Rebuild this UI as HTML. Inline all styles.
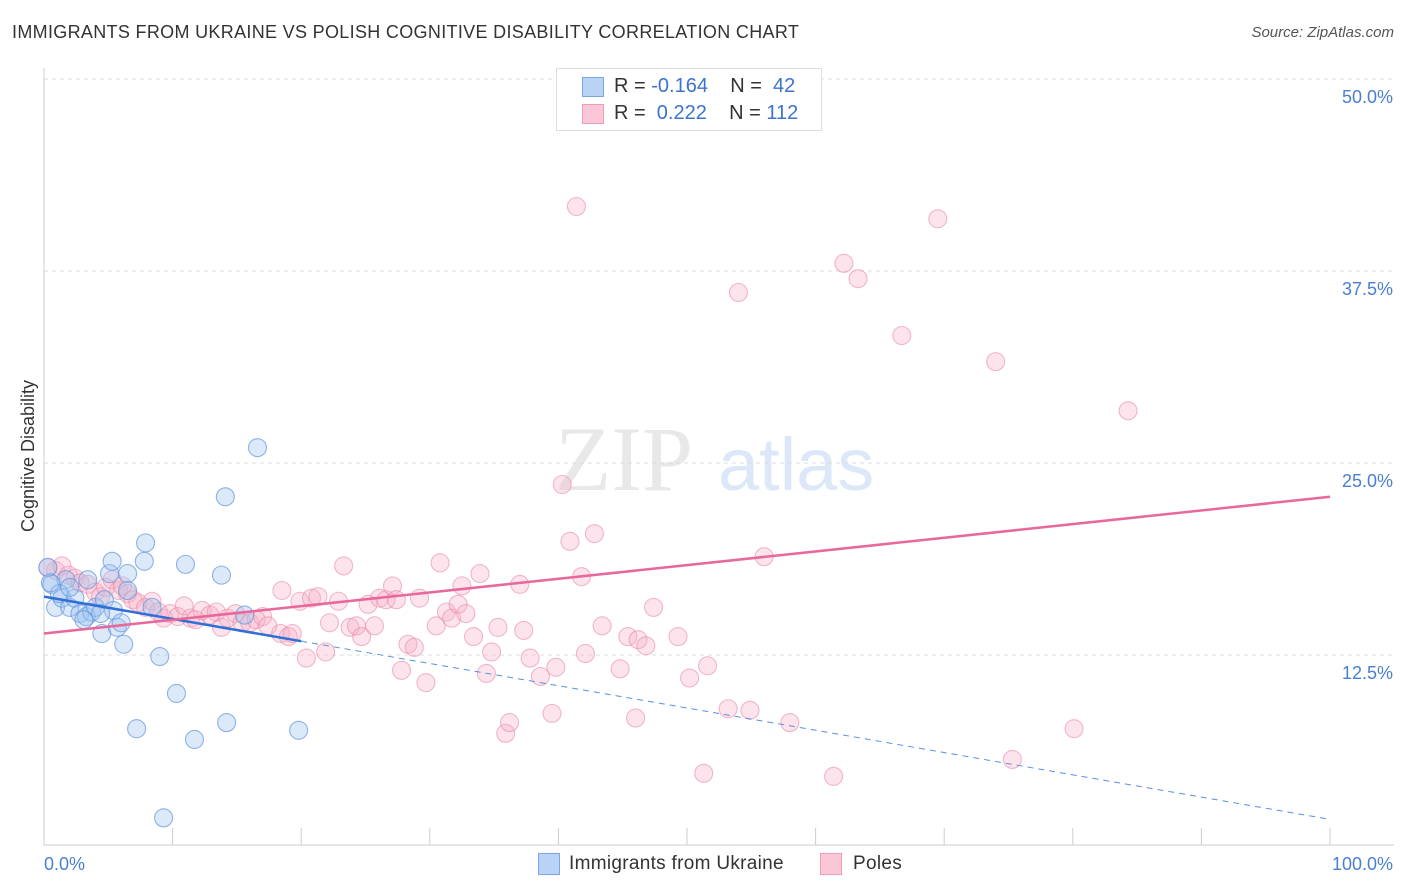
<!DOCTYPE html>
<html><head><meta charset="utf-8"><style>
body{margin:0;background:#fff;font-family:"Liberation Sans",sans-serif}
#c{position:relative;width:1406px;height:892px}
.t{position:absolute;white-space:nowrap}
</style></head><body>
<div id="c">
<div class="t" style="left:12px;top:22px;font-size:18px;color:#333;letter-spacing:0.32px">IMMIGRANTS FROM UKRAINE VS POLISH COGNITIVE DISABILITY CORRELATION CHART</div>
<div class="t" style="right:12px;top:24px;font-size:15px;color:#555;font-style:italic">Source: ZipAtlas.com</div>
<svg id="s" width="1406" height="892" style="position:absolute;left:0;top:0"></svg>
</div>
<script>
const yTicks=[12.5,25,37.5,50];
const yTickLabels=["12.5%","25.0%","37.5%","50.0%"];
const xTickCount=10;
const blueX=[0.3,0.6,0.9,1.4,1.7,2.0,2.4,2.8,3.3,3.4,3.7,4.0,4.5,4.7,5.1,5.3,5.4,5.7,6.0,6.2,6.5,6.5,7.9,7.8,8.4,9.0,10.3,7.2,11.0,11.7,13.8,14.1,14.2,15.6,16.6,19.8,9.3,3.1,1.2,2.0,4.4,0.5];
const blueY=[18.2,17.1,15.6,16.2,17.4,15.6,16.2,15.2,15.0,17.4,15.3,15.6,13.9,16.1,17.8,18.6,15.4,14.3,14.6,13.2,17.8,16.7,19.8,18.6,15.6,12.4,10.0,7.7,18.4,7.0,17.7,22.8,8.1,15.1,26.0,7.6,1.9,14.8,16.5,16.9,15.2,17.2];
const pinkX=[0.3,0.9,1.4,1.9,2.4,2.8,3.4,4.0,4.4,4.8,5.3,5.8,6.1,6.5,6.9,7.3,7.9,8.4,8.9,9.3,9.8,10.4,10.9,11.4,11.8,12.3,12.9,13.4,13.8,14.3,14.9,15.4,16.0,16.5,17.0,17.4,18.4,19.0,19.3,18.5,19.9,20.4,20.8,21.3,21.9,22.2,22.9,23.3,23.8,24.3,24.7,25.2,25.7,26.1,26.6,27.1,27.4,27.8,28.3,28.8,29.2,29.7,30.5,30.8,31.3,31.7,32.2,32.5,32.8,33.4,33.9,34.4,34.8,35.3,35.9,36.2,37.0,37.3,37.8,38.6,39.5,39.8,40.3,40.9,41.4,41.8,42.1,42.8,43.4,44.8,45.4,46.0,46.2,46.8,47.4,49.3,50.2,51.3,51.6,53.2,54.0,54.9,56.0,58.0,61.4,62.2,63.3,66.7,69.5,74.0,75.3,80.1,84.3];
const pinkY=[18.2,18.0,18.3,17.7,17.5,17.2,17.1,16.6,16.3,16.9,17.4,16.7,17.0,16.5,16.1,15.9,15.6,16.0,15.3,14.9,15.2,15.0,15.7,14.9,14.8,15.4,15.1,15.3,14.3,14.9,15.2,14.6,14.6,14.8,15.0,14.4,13.9,13.7,13.9,16.7,16.0,12.3,16.2,16.3,12.7,14.6,16.0,18.3,14.3,14.4,13.7,15.8,14.4,16.2,16.1,17.0,16.1,11.5,13.2,13.0,16.2,10.7,14.4,18.5,15.3,14.9,15.8,17.0,15.2,13.7,17.8,11.3,12.7,14.3,7.4,8.1,17.1,14.1,12.3,11.1,8.7,11.7,23.6,19.9,41.7,17.6,12.6,20.4,14.4,11.6,13.7,8.4,13.5,13.1,15.6,13.7,11.0,4.8,11.8,9.0,36.1,8.9,18.9,8.1,4.6,38.0,37.0,33.3,40.9,31.6,5.7,7.7,28.4];
const blueTrend=[16.3,1.8];
const pinkTrend=[13.9,22.8];

const L=44,R=1330,Y0=847,PX=15.36;
const sx=v=>L+(R-L)*v/100, sy=v=>Y0-v*PX;
const s=document.getElementById('s');const NS='http://www.w3.org/2000/svg';
function mk(t,a,p){const e=document.createElementNS(NS,t);for(const k in a)e.setAttribute(k,a[k]);(p||s).appendChild(e);return e;}
let w=mk('text',{x:555,y:490,'font-size':92,fill:'#e8e8e8','font-family':'Liberation Serif'});w.textContent='ZIP';


let w2=mk('text',{x:718,y:490,'font-size':74,fill:'#dce8f7','font-family':'Liberation Sans'});w2.textContent='atlas';


mk('line',{x1:L,x2:1394,y1:79,y2:79,stroke:'#ddd','stroke-dasharray':'4,4'});
yTicks.forEach((v,i)=>{const g=mk('line',{x1:L,x2:1394,y1:sy(v),y2:sy(v),stroke:'#ddd','stroke-dasharray':'4,4'});


const t=mk('text',{x:1393,y:sy(v)+24,'text-anchor':'end','font-size':18,fill:'#4a7fd0'});t.textContent=yTickLabels[i];

});
mk('line',{x1:L,x2:L,y1:68,y2:845,stroke:'#ccc'});
mk('line',{x1:L,x2:1394,y1:845,y2:845,stroke:'#ccc'});
for(let i=0;i<=xTickCount;i++){const x=sx(i*100/xTickCount);const tk=mk('line',{x1:x,x2:x,y1:828,y2:845,stroke:'#ccc'});

}
const xl=mk('text',{x:44,y:870,'font-size':18,fill:'#4a7fd0'});xl.textContent='0.0%';


const xr=mk('text',{x:1393,y:870,'text-anchor':'end','font-size':18,fill:'#4a7fd0'});xr.textContent='100.0%';


const yt=mk('text',{x:34,y:456,'text-anchor':'middle','font-size':18,fill:'#333',transform:'rotate(-90 34 456)'});yt.textContent='Cognitive Disability';


pinkX.forEach((x,i)=>{const c=mk('circle',{cx:sx(x),cy:sy(pinkY[i]),r:9,fill:'rgba(245,175,200,0.35)',stroke:'rgba(232,140,172,0.6)','stroke-width':1.1});

});
blueX.forEach((x,i)=>{const c=mk('circle',{cx:sx(x),cy:sy(blueY[i]),r:9,fill:'rgba(160,196,240,0.38)',stroke:'rgba(100,148,222,0.7)','stroke-width':1.1});

});
const bt=v=>blueTrend[0]+(blueTrend[1]-blueTrend[0])*v/100;
const l1=mk('line',{x1:sx(0),y1:sy(bt(0)),x2:sx(20),y2:sy(bt(20)),stroke:'#2f6fd6','stroke-width':2.5});


const l2=mk('line',{x1:sx(20),y1:sy(bt(20)),x2:sx(100),y2:sy(bt(100)),stroke:'#5a8fe0','stroke-width':1,'stroke-dasharray':'6,5'});


const l3=mk('line',{x1:sx(0),y1:sy(pinkTrend[0]),x2:sx(100),y2:sy(pinkTrend[1]),stroke:'#e8689a','stroke-width':2.5});


</script>
<div class="t" style="left:556px;top:68px;width:264px;height:61px;border:1px solid #ddd;background:#fff">
 <div style="position:absolute;left:25px;top:8px;width:20px;height:18px;background:#b8d3f5;border:1px solid #7aa6e6"></div>
 <div style="position:absolute;left:25px;top:35px;width:20px;height:18px;background:#fbc7d7;border:1px solid #ee9cb8"></div>
 <div class="t" style="left:57px;top:6px;font-size:20px;color:#333">R = <span style="color:#3b73cf">-0.164</span>&nbsp;&nbsp;&nbsp; N = &nbsp;<span style="color:#3b73cf">42</span></div>
 <div class="t" style="left:57px;top:33px;font-size:20px;color:#333">R = &nbsp;<span style="color:#3b73cf">0.222</span>&nbsp;&nbsp;&nbsp; N = <span style="color:#3b73cf">112</span></div>
</div>
<div class="t" style="left:538px;top:853px;width:20px;height:20px;background:#b8d3f5;border:1px solid #7aa6e6"></div>
<div class="t" style="left:569px;top:853px;font-size:19px;color:#333;letter-spacing:0.3px">Immigrants from Ukraine</div>
<div class="t" style="left:820px;top:853px;width:20px;height:20px;background:#fbc7d7;border:1px solid #ee9cb8"></div>
<div class="t" style="left:853px;top:853px;font-size:19px;color:#333;letter-spacing:0.3px">Poles</div>
</body></html>
